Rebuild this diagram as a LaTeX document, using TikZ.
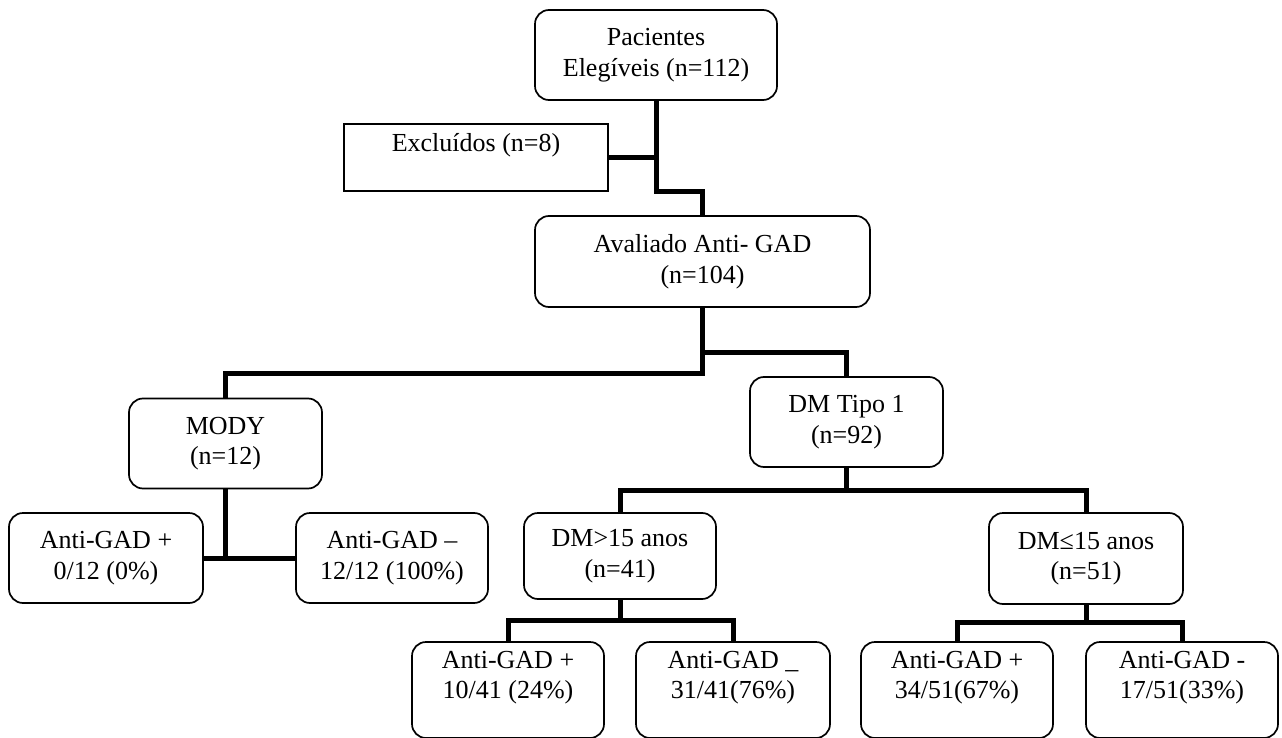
\documentclass[tikz,border=0pt]{standalone}
\usepackage{fontspec}
\setmainfont{Liberation Serif}
\usepackage{tikz}
\usetikzlibrary{positioning, calc}

\begin{document}
\begin{tikzpicture}[x=1pt, y=1pt, font=\fontsize{26}{30.5}\selectfont]
        % Define block styles
        \tikzstyle{box} = [rectangle, draw, line width=1.7pt, align=center, rounded corners=14pt, inner sep=0pt, minimum width=193pt, minimum height=90pt]
        \tikzstyle{plainbox} = [rectangle, draw, line width=1.7pt, align=center, inner sep=0pt]
        \tikzstyle{link} = [draw, line width=5pt]

        \useasboundingbox (0,0) rectangle (1282,-738);

        % Place main nodes
        \node [box, minimum width=242pt] (pacientes) at (656,-55) {Pacientes\\Elegíveis (n=112)};
        \node [plainbox, minimum width=264pt, minimum height=67pt] (excluidos) at (476,-157.5) {Excluídos (n=8)\\\mbox{}};
        \node [box, minimum width=335pt, minimum height=91pt] (avaliado) at (702.5,-261.5) {Avaliado Anti- GAD\\(n=104)};
        \node [box] (mody) at (225.5,-443.5) {MODY\\(n=12)};
        \node [box] (tipo1) at (846.5,-422) {DM Tipo 1\\(n=92)};

        % Place nodes under MODY
        \node [box, minimum width=194pt] (modypos) at (106,-558) {Anti-GAD +\\0/12 (0\%)};
        \node [box, minimum width=192pt] (modyneg) at (392,-558) {Anti-GAD –\\12/12 (100\%)};

        % Place nodes under DM Tipo 1
        \node [box, minimum width=192pt, minimum height=86pt] (maior) at (620,-556) {DM>15 anos\\(n=41)};
        \node [box, minimum width=194pt, minimum height=91pt] (menor) at (1086,-558.5) {DM≤15 anos\\(n=51)};
        \node [box, minimum width=192pt, minimum height=96pt] (maiorpos) at (508,-690) {Anti-GAD +\\10/41 (24\%)\\\mbox{}};
        \node [box, minimum width=194pt, minimum height=96pt] (maiorneg) at (733,-690) {Anti-GAD \_\\31/41(76\%)\\\mbox{}};
        \node [box, minimum width=192pt, minimum height=96pt] (menorpos) at (957,-690) {Anti-GAD +\\34/51(67\%)\\\mbox{}};
        \node [box, minimum width=192pt, minimum height=96pt] (menorneg) at (1182,-690) {Anti-GAD -\\17/51(33\%)\\\mbox{}};

        % Junction points
        \coordinate (jtop) at (656,-192);
        \coordinate (jsplit) at (702.5,-373);
        \coordinate (jright) at (702.5,-352);
        \coordinate (jtipo1) at (846.5,-490);
        \coordinate (jmaior) at (620,-620);
        \coordinate (jmenor) at (1086,-622);

        % Draw connections at the top
        \draw [link] (pacientes.south) -- (jtop) -| (avaliado.north);
        \draw [link] (excluidos.east) -- (excluidos.east -| pacientes.south);

        % Draw connections from Avaliado
        \draw [link] (avaliado.south) -- (jsplit) -| (mody.north);
        \draw [link] (jright) -| (tipo1.north);

        % Draw connections within MODY
        \draw [link] (mody.south) -- (mody.south |- modyneg.west);
        \draw [link] (modypos.east) -- (modyneg.west);

        % Draw connections within DM Tipo 1
        \draw [link] (tipo1.south) -- (jtipo1);
        \draw [link] (maior.north) |- (jtipo1) -| (menor.north);
        \draw [link] (maior.south) -- (jmaior);
        \draw [link] (maiorpos.north) |- (jmaior) -| (maiorneg.north);
        \draw [link] (menor.south) -- (jmenor);
        \draw [link] (menorpos.north) |- (jmenor) -| (menorneg.north);

    \end{tikzpicture}
\end{document}
